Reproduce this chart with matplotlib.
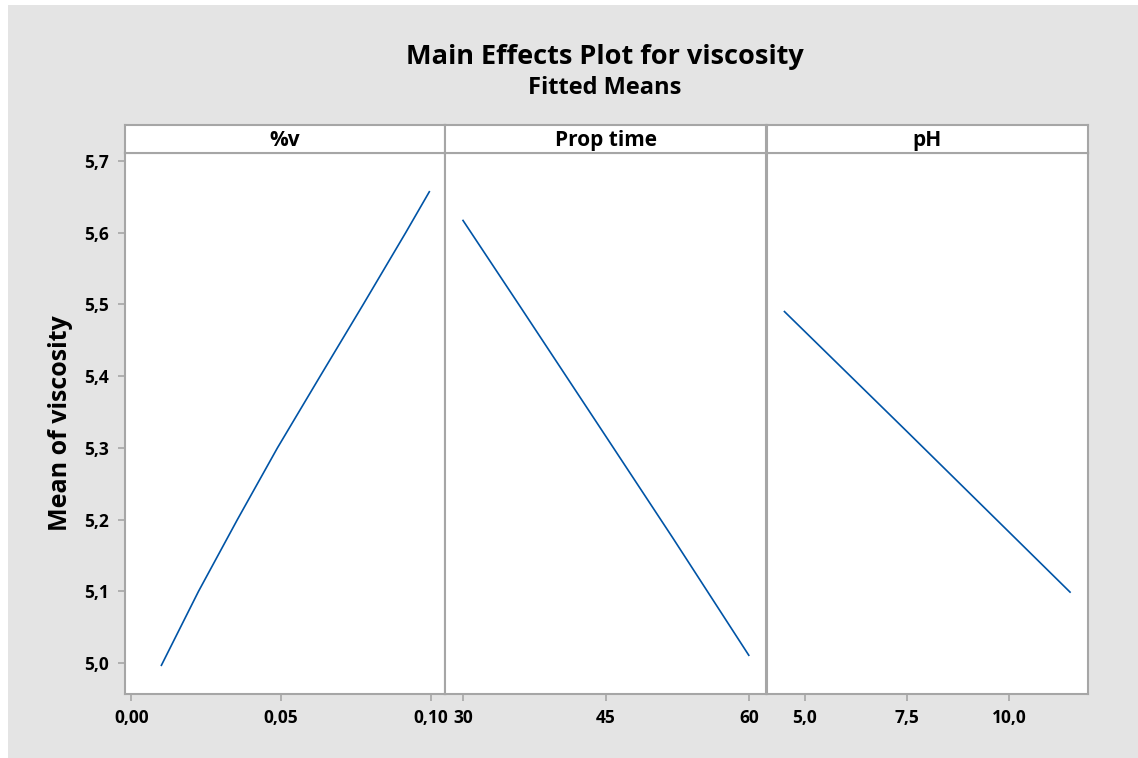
import matplotlib
matplotlib.use("Agg")
import matplotlib.pyplot as plt
from matplotlib.patches import Rectangle

plt.rcParams["font.family"] = ["Open Sans", "DejaVu Sans"]

# 数据: 三个因子的拟合均值
panel_names = ["%v", "Prop time", "pH"]

v_x = [0.01, 0.0224, 0.0354, 0.0488, 0.0631, 0.0775, 0.0917, 0.0996]
v_y = [4.997, 5.10, 5.20, 5.30, 5.40, 5.50, 5.60, 5.657]

prop_x = [30, 36, 45, 52, 60]
prop_y = [5.617, 5.497, 5.316, 5.175, 5.011]

ph_x = [4.5, 7.5, 11.5]
ph_y = [5.49, 5.323, 5.099]

v_ticks = [0.00, 0.05, 0.10]
prop_ticks = [30, 45, 60]
ph_ticks = [5.0, 7.5, 10.0]
y_ticks = [5.0, 5.1, 5.2, 5.3, 5.4, 5.5, 5.6, 5.7]

line_color = "#0054a6"
spine_color = "#a6a6a6"
bg_color = "#e4e4e4"
weight = "bold"

fig = plt.figure(figsize=(11.38, 7.58), dpi=100)
fig.patch.set_facecolor("white")
# 灰色背景
fig.patches.append(Rectangle((8 / 1138, 0), 1, 1 - 5 / 758, transform=fig.transFigure,
                             facecolor=bg_color, edgecolor="none", zorder=-10))

W, H = 1138.0, 758.0
bottom = 1 - 694 / H
height = (694 - 153) / H
head_h = (153 - 125) / H
lefts = [124.5, 445, 766.5]
rights = [445, 766.5, 1088]

series = [(v_x, v_y, v_ticks, (-0.00234, 0.10484), "%.2f"),
          (prop_x, prop_y, prop_ticks, (28.11, 61.86), "%d"),
          (ph_x, ph_y, ph_ticks, (4.06, 11.94), "%.1f")]

for i, (xs, ys, ticks, xlim, fmt) in enumerate(series):
    l = lefts[i] / W
    w = (rights[i] - lefts[i]) / W
    ax = fig.add_axes([l, bottom, w, height])
    ax.plot(xs, ys, color=line_color, linewidth=1.2)
    ax.set_xlim(xlim)
    ax.set_ylim(4.957, 5.711)
    ax.set_xticks(ticks)
    ax.set_xticklabels([(fmt % t).replace(".", ",") for t in ticks],
                       fontsize=12.5, fontweight=weight)
    for s in ax.spines.values():
        s.set_color(spine_color)
        s.set_linewidth(1.5)
    ax.tick_params(axis="both", colors=spine_color, labelcolor="black",
                   length=5, width=1.2, direction="out", pad=6)
    if i == 0:
        ax.set_yticks(y_ticks)
        ax.set_yticklabels([("%.1f" % t).replace(".", ",") for t in y_ticks],
                           fontsize=12.5, fontweight=weight)
        ax.set_ylabel("Mean of viscosity", fontsize=18, fontweight=weight, labelpad=8)
    else:
        ax.set_yticks([])

    # 面板标题栏
    hax = fig.add_axes([l, bottom + height, w, head_h])
    hax.set_xticks([])
    hax.set_yticks([])
    for s in hax.spines.values():
        s.set_color(spine_color)
        s.set_linewidth(1.5)
    hax.text(0.5, 0.45, panel_names[i], ha="center", va="center",
             fontsize=15, fontweight=weight, transform=hax.transAxes)

fig.text(605 / W, 1 - 57 / H, "Main Effects Plot for viscosity", ha="center", va="center",
         fontsize=19.5, fontweight=weight)
fig.text(605 / W, 1 - 88 / H, "Fitted Means", ha="center", va="center",
         fontsize=17, fontweight=weight)

fig.savefig("out.png", dpi=100, facecolor=fig.get_facecolor())
